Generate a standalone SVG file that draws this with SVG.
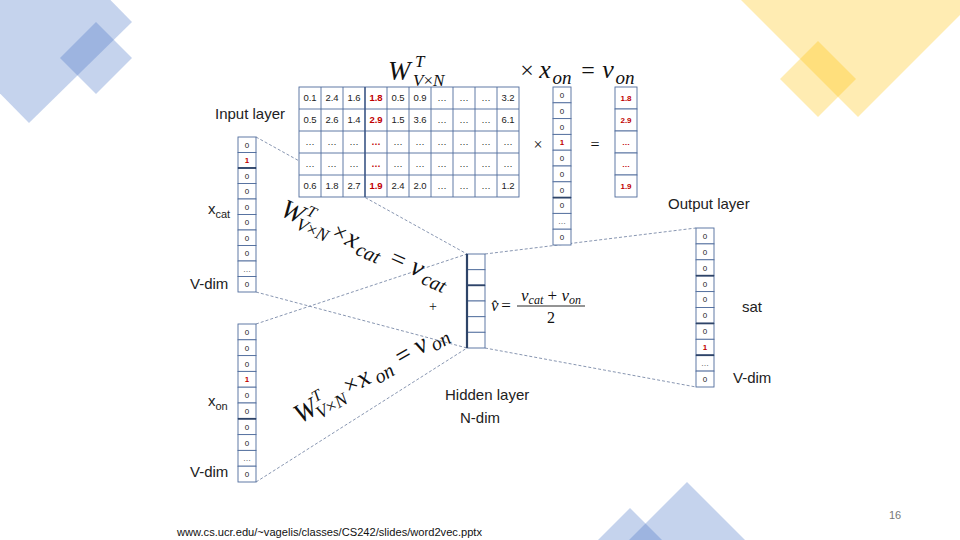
<svg xmlns="http://www.w3.org/2000/svg" width="960" height="540" viewBox="0 0 960 540">
<style>
.bl{fill:#4472c4;fill-opacity:0.31}
.yl{fill:#ffc000;fill-opacity:0.3}
.cell{fill:#fff;stroke:#4f6c9c;stroke-width:0.9}
.thk{stroke:#2e4468;stroke-width:1.8}
.v{font-family:"Liberation Sans",Arial,sans-serif;font-size:8px;fill:#222;text-anchor:middle}
.m{font-family:"Liberation Sans",Arial,sans-serif;font-size:9.5px;fill:#222;text-anchor:middle}
.r{fill:#c00000;font-weight:bold}
.lbl{font-family:"Liberation Sans",Arial,sans-serif;font-size:15px;fill:#222}
.mth{font-family:"Liberation Serif","Times New Roman",serif;fill:#111}
.it{font-style:italic}
.c{text-anchor:middle}
.conn line{stroke:#7a8aa8;stroke-width:0.9;stroke-dasharray:3 2}
</style>
<rect width="960" height="540" fill="#fff"/>
<g id="decor">
<polygon class="bl" points="31,-81 132,22 29,123 -72,20"/>
<polygon class="bl" points="96,22 132,58 96,94 60,58"/>
<polygon class="yl" points="741,0 960,0 960,15 858,117"/>
<polygon class="yl" points="818,41 856,79 818,117 780,79"/>
<polygon class="bl" points="687,482 745,540 629,540"/>
<polygon class="bl" points="630,508 662,540 598,540"/>
</g>
<g id="connectors" class="conn">
<line x1="256" y1="137" x2="467" y2="254"/>
<line x1="256" y1="292" x2="467" y2="348"/>
<line x1="256" y1="324" x2="467" y2="254"/>
<line x1="256" y1="482" x2="467" y2="348"/>
<line x1="485" y1="254" x2="696" y2="228"/>
<line x1="485" y1="348" x2="696" y2="387"/>
</g>
<g id="matrix">
<rect class="cell" x="299" y="87" width="220" height="110"/>
<g stroke="#4f6c9c" stroke-width="0.9">
<line x1="299" y1="109" x2="519" y2="109"/><line x1="299" y1="131" x2="519" y2="131"/><line x1="299" y1="153" x2="519" y2="153"/><line x1="299" y1="175" x2="519" y2="175"/>
<line x1="321" y1="87" x2="321" y2="197"/><line x1="343" y1="87" x2="343" y2="197"/><line x1="387" y1="87" x2="387" y2="197"/><line x1="409" y1="87" x2="409" y2="197"/><line x1="431" y1="87" x2="431" y2="197"/><line x1="453" y1="87" x2="453" y2="197"/><line x1="475" y1="87" x2="475" y2="197"/><line x1="497" y1="87" x2="497" y2="197"/>
</g>
<line x1="365" y1="87" x2="365" y2="197" stroke="#3a5585" stroke-width="1.6"/>
<g class="m">
<text x="310" y="101">0.1</text><text x="332" y="101">2.4</text><text x="354" y="101">1.6</text><text x="376" y="101" class="r">1.8</text><text x="398" y="101">0.5</text><text x="420" y="101">0.9</text><text x="442" y="101">…</text><text x="464" y="101">…</text><text x="486" y="101">…</text><text x="508" y="101">3.2</text>
<text x="310" y="123">0.5</text><text x="332" y="123">2.6</text><text x="354" y="123">1.4</text><text x="376" y="123" class="r">2.9</text><text x="398" y="123">1.5</text><text x="420" y="123">3.6</text><text x="442" y="123">…</text><text x="464" y="123">…</text><text x="486" y="123">…</text><text x="508" y="123">6.1</text>
<text x="310" y="145">…</text><text x="332" y="145">…</text><text x="354" y="145">…</text><text x="376" y="145" class="r">…</text><text x="398" y="145">…</text><text x="420" y="145">…</text><text x="442" y="145">…</text><text x="464" y="145">…</text><text x="486" y="145">…</text><text x="508" y="145">…</text>
<text x="310" y="167">…</text><text x="332" y="167">…</text><text x="354" y="167">…</text><text x="376" y="167" class="r">…</text><text x="398" y="167">…</text><text x="420" y="167">…</text><text x="442" y="167">…</text><text x="464" y="167">…</text><text x="486" y="167">…</text><text x="508" y="167">…</text>
<text x="310" y="189">0.6</text><text x="332" y="189">1.8</text><text x="354" y="189">2.7</text><text x="376" y="189" class="r">1.9</text><text x="398" y="189">2.4</text><text x="420" y="189">2.0</text><text x="442" y="189">…</text><text x="464" y="189">…</text><text x="486" y="189">…</text><text x="508" y="189">1.2</text>
</g>
</g>
<g id="matrix-title" class="mth">
<text x="388" y="80" font-size="27" class="it">W</text>
<text x="415" y="67" font-size="17" class="it">T</text>
<text x="413" y="86" font-size="17"><tspan class="it">V</tspan>×<tspan class="it">N</tspan></text>
<text x="527" y="78" font-size="24" class="c">×</text>
<text x="545" y="78" font-size="26" class="c it">x</text>
<text x="562" y="84" font-size="19" class="c it">on</text>
<text x="588" y="78" font-size="24" class="c">=</text>
<text x="608" y="78" font-size="26" class="c it">v</text>
<text x="625" y="84" font-size="19" class="c it">on</text>
<text x="538" y="150" font-size="16" class="c">×</text>
<text x="595" y="150" font-size="16" class="c">=</text>
</g>
<g id="x-on-top">
<rect class="cell" x="553" y="87" width="18" height="15.8"/><rect class="cell" x="553" y="102.8" width="18" height="15.8"/><rect class="cell" x="553" y="118.6" width="18" height="15.8"/><rect class="cell" x="553" y="134.4" width="18" height="15.8"/><rect class="cell" x="553" y="150.2" width="18" height="15.8"/><rect class="cell" x="553" y="166" width="18" height="15.8"/><rect class="cell" x="553" y="181.8" width="18" height="15.8"/><rect class="cell" x="553" y="197.6" width="18" height="15.8"/><rect class="cell" x="553" y="213.4" width="18" height="15.8"/><rect class="cell" x="553" y="229.2" width="18" height="15.8"/>
<line class="thk" x1="553" y1="197.6" x2="571" y2="197.6"/>
<g class="v"><text x="562" y="98">0</text><text x="562" y="114">0</text><text x="562" y="130">0</text><text x="562" y="145" class="r">1</text><text x="562" y="161">0</text><text x="562" y="177">0</text><text x="562" y="193">0</text><text x="562" y="208">0</text><text x="562" y="224">…</text><text x="562" y="240">0</text></g>
</g>
<g id="v-on-result">
<rect class="cell" x="615" y="87" width="22" height="22"/><rect class="cell" x="615" y="109" width="22" height="22"/><rect class="cell" x="615" y="131" width="22" height="22"/><rect class="cell" x="615" y="153" width="22" height="22"/><rect class="cell" x="615" y="175" width="22" height="22"/>
<g class="v r"><text x="626" y="101">1.8</text><text x="626" y="123">2.9</text><text x="626" y="145">…</text><text x="626" y="167">…</text><text x="626" y="189">1.9</text></g>
</g>
<g id="input-cat">
<text class="lbl" x="215" y="119">Input layer</text>
<text class="lbl" x="208" y="214">x<tspan font-size="11" dy="4">cat</tspan></text>
<text class="lbl" x="190" y="289">V-dim</text>
<rect class="cell" x="238" y="137" width="18" height="15.5"/><rect class="cell" x="238" y="152.5" width="18" height="15.5"/><rect class="cell" x="238" y="168" width="18" height="15.5"/><rect class="cell" x="238" y="183.5" width="18" height="15.5"/><rect class="cell" x="238" y="199" width="18" height="15.5"/><rect class="cell" x="238" y="214.5" width="18" height="15.5"/><rect class="cell" x="238" y="230" width="18" height="15.5"/><rect class="cell" x="238" y="245.5" width="18" height="15.5"/><rect class="cell" x="238" y="261" width="18" height="15.5"/><rect class="cell" x="238" y="276.5" width="18" height="15.5"/>
<line class="thk" x1="238" y1="168" x2="256" y2="168"/>
<g class="v"><text x="247" y="148">0</text><text x="247" y="163" class="r">1</text><text x="247" y="179">0</text><text x="247" y="194">0</text><text x="247" y="210">0</text><text x="247" y="225">0</text><text x="247" y="241">0</text><text x="247" y="256">0</text><text x="247" y="272">…</text><text x="247" y="287">0</text></g>
</g>
<g id="input-on">
<text class="lbl" x="208" y="406">x<tspan font-size="11" dy="4">on</tspan></text>
<text class="lbl" x="190" y="477">V-dim</text>
<rect class="cell" x="238" y="324" width="18" height="15.8"/><rect class="cell" x="238" y="339.8" width="18" height="15.8"/><rect class="cell" x="238" y="355.6" width="18" height="15.8"/><rect class="cell" x="238" y="371.4" width="18" height="15.8"/><rect class="cell" x="238" y="387.2" width="18" height="15.8"/><rect class="cell" x="238" y="403" width="18" height="15.8"/><rect class="cell" x="238" y="418.8" width="18" height="15.8"/><rect class="cell" x="238" y="434.6" width="18" height="15.8"/><rect class="cell" x="238" y="450.4" width="18" height="15.8"/><rect class="cell" x="238" y="466.2" width="18" height="15.8"/>
<line class="thk" x1="238" y1="418.8" x2="256" y2="418.8"/>
<g class="v"><text x="247" y="335">0</text><text x="247" y="351">0</text><text x="247" y="367">0</text><text x="247" y="382" class="r">1</text><text x="247" y="398">0</text><text x="247" y="414">0</text><text x="247" y="430">0</text><text x="247" y="446">0</text><text x="247" y="461">…</text><text x="247" y="477">0</text></g>
</g>
<g id="hidden">
<rect class="cell" x="467" y="254" width="18" height="15.7"/><rect class="cell" x="467" y="269.7" width="18" height="15.6"/><rect class="cell" x="467" y="285.3" width="18" height="15.7"/><rect class="cell" x="467" y="301" width="18" height="15.7"/><rect class="cell" x="467" y="316.7" width="18" height="15.6"/><rect class="cell" x="467" y="332.3" width="18" height="15.7"/>
<line class="thk" x1="467" y1="285.3" x2="485" y2="285.3"/>
<line x1="467" y1="254" x2="467" y2="348" stroke="#2e4468" stroke-width="2.2"/>
<text class="mth c" x="433" y="311" font-size="14">+</text>
<text class="mth it" x="491" y="311" font-size="17">v̂</text>
<text class="mth c" x="506" y="311" font-size="17">=</text>
<text class="mth c" x="551" y="301" font-size="17"><tspan class="it">v</tspan><tspan class="it" font-size="12" dy="3">cat</tspan><tspan dy="-3"> + </tspan><tspan class="it">v</tspan><tspan class="it" font-size="12" dy="3">on</tspan></text>
<line x1="517" y1="306" x2="585" y2="306" stroke="#111" stroke-width="0.9"/>
<text class="mth c" x="551" y="323" font-size="16">2</text>
<text class="lbl" x="445" y="400">Hidden layer</text>
<text class="lbl" x="460" y="423">N-dim</text>
</g>
<g id="output">
<text class="lbl" x="668" y="209">Output layer</text>
<text class="lbl" x="742" y="312">sat</text>
<text class="lbl" x="733" y="383">V-dim</text>
<rect class="cell" x="696" y="228" width="18" height="15.9"/><rect class="cell" x="696" y="243.9" width="18" height="15.9"/><rect class="cell" x="696" y="259.8" width="18" height="15.9"/><rect class="cell" x="696" y="275.7" width="18" height="15.9"/><rect class="cell" x="696" y="291.6" width="18" height="15.9"/><rect class="cell" x="696" y="307.5" width="18" height="15.9"/><rect class="cell" x="696" y="323.4" width="18" height="15.9"/><rect class="cell" x="696" y="339.3" width="18" height="15.9"/><rect class="cell" x="696" y="355.2" width="18" height="15.9"/><rect class="cell" x="696" y="371.1" width="18" height="15.9"/>
<line class="thk" x1="696" y1="275.7" x2="714" y2="275.7"/><line class="thk" x1="696" y1="323.4" x2="714" y2="323.4"/><line class="thk" x1="696" y1="355.2" x2="714" y2="355.2"/>
<g class="v"><text x="705" y="239">0</text><text x="705" y="255">0</text><text x="705" y="271">0</text><text x="705" y="287">0</text><text x="705" y="302">0</text><text x="705" y="318">0</text><text x="705" y="334">0</text><text x="705" y="350" class="r">1</text><text x="705" y="366">…</text><text x="705" y="382">0</text></g>
</g>
<g id="formula-cat" class="mth" transform="translate(279,215) rotate(24)">
<text x="0" y="0" font-size="27" class="it">W</text>
<text x="24" y="-11" font-size="16" class="it">T</text>
<text x="20" y="6" font-size="18"><tspan class="it">V</tspan>×<tspan class="it">N</tspan></text>
<text x="63" y="-1" font-size="24" class="c">×</text>
<text x="77" y="0" font-size="27" class="c it">x</text>
<text x="97" y="5" font-size="20" class="c it">cat</text>
<text x="127" y="0" font-size="26" class="c">=</text>
<text x="148" y="0" font-size="27" class="c it">v</text>
<text x="169" y="5" font-size="20" class="c it">cat</text>
</g>
<g id="formula-on" class="mth" transform="translate(300,424) rotate(-30)">
<text x="0" y="0" font-size="27" class="it">W</text>
<text x="24" y="-11" font-size="16" class="it">T</text>
<text x="20" y="6" font-size="18"><tspan class="it">V</tspan>×<tspan class="it">N</tspan></text>
<text x="64" y="-1" font-size="24" class="c">×</text>
<text x="78" y="0" font-size="27" class="c it">x</text>
<text x="98" y="5" font-size="20" class="c it">on</text>
<text x="124" y="0" font-size="26" class="c">=</text>
<text x="144" y="0" font-size="27" class="c it">v</text>
<text x="163" y="5" font-size="20" class="c it">on</text>
</g>
<g id="footer">
<text x="177" y="536" font-family="Liberation Sans,Arial,sans-serif" font-size="10" fill="#111" textLength="305" lengthAdjust="spacingAndGlyphs">www.cs.ucr.edu/~vagelis/classes/CS242/slides/word2vec.pptx</text>
<text x="889" y="519" font-family="Liberation Sans,Arial,sans-serif" font-size="11" fill="#777">16</text>
</g>
</svg>
